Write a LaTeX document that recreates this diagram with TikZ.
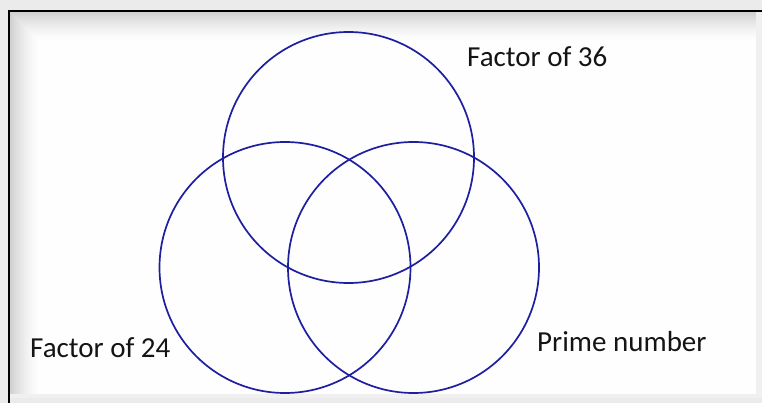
\documentclass[tikz,border=0pt]{standalone}
\usepackage{fontspec}
\setmainfont{Carlito}
\definecolor{vennblue}{RGB}{30,30,160}
\definecolor{outgray}{RGB}{235,235,235}
\tikzset{
  venn/.style={circle, draw=vennblue, line width=1.7pt, minimum size=251pt, inner sep=0pt, outer sep=0pt},
  lbl/.style={anchor=base west, inner sep=0pt, font=\fontsize{29}{33}\selectfont, text=black!92}
}
\begin{document}
\begin{tikzpicture}[x=1pt,y=-1pt]
\useasboundingbox (0,0) rectangle (762,403);
\fill[outgray] (0,0) rectangle (762,403);
\fill[black!6] (10,12) rectangle (762,398);
\foreach \i in {0,...,15} {
  \pgfmathsetmacro\s{18*(1-\i/16)^1.7}
  \fill[black!\s!white] (10+2*\i,12+2*\i) rectangle (756,394);
}
\draw[line width=2.2pt] (9,403) -- (9,11) -- (762,11);
\node[venn] (c36) at (348.5,157.5) {};
\node[venn] (c24) at (285,267.5) {};
\node[venn] (cpr) at (413.5,267.5) {};
\node[lbl] (t36) at (467,67) {Factor of 36};
\node[lbl] (t24) at (30,357) {Factor of 24};
\node[lbl] (tpr) at (537,351) {Prime number};
\end{tikzpicture}
\end{document}
